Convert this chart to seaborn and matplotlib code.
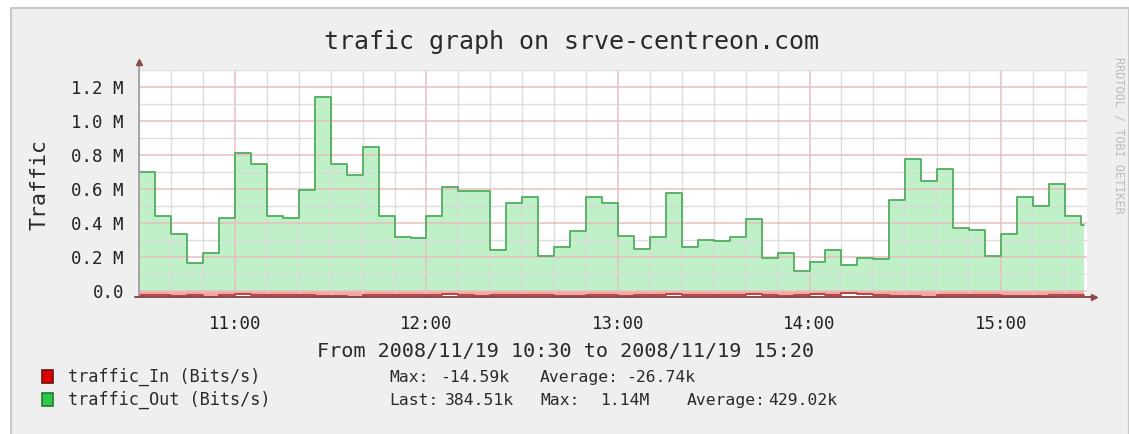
import pandas as pd
import seaborn as sns
import matplotlib.pyplot as plt
import matplotlib.dates as mdates
from matplotlib.patches import Rectangle
from matplotlib.ticker import FuncFormatter, MultipleLocator

# values, one per 5 min step starting 10:30 (kbit/s)
out_kbits = [697, 442, 335, 163, 225, 427, 813, 744, 442, 427,
             593, 1141, 744, 681, 848, 442, 315, 311, 440, 609,
             589, 589, 241, 519, 554, 206, 260, 354, 550, 519,
             323, 247, 319, 574, 256, 296, 290, 315, 423, 190,
             221, 117, 168, 237, 149, 192, 188, 534, 773, 646,
             717, 372, 358, 206, 335, 550, 501, 628, 440, 385]
in_kbits = [-24, -26, -33, -28, -35, -25, -22, -24, -27, -25,
            -28, -31, -33, -36, -27, -24, -25, -26, -23, -22,
            -28, -30, -26, -25, -27, -24, -29, -31, -26, -23,
            -33, -26, -24, -21, -25, -27, -28, -24, -22, -25,
            -31, -24, -20, -23, -14.59, -19, -25, -29, -33, -35,
            -27, -24, -23, -28, -31, -34, -29, -26, -25, -24]
start = "2008-11-19 10:30"
last_edge = "2008-11-19 15:26"
view_end = "2008-11-19 15:27"

title = "trafic graph on srve-centreon.com"
period = "From 2008/11/19 10:30 to 2008/11/19 15:20"
legend_names = ["traffic_In (Bits/s)", "traffic_Out (Bits/s)"]
legend_colors = ["#E00000", "#2EC94A"]
legend_edges = ["#6A1010", "#1F7A30"]
in_stats = [("Max:", 389), ("-14.59k", 440), ("Average:", 540), ("-26.74k", 626)]
out_stats = [("Last:", 389), ("384.51k", 445), ("Max:", 540), ("1.14M", 600),
             ("Average:", 687), ("429.02k", 768)]

W, H = 1129, 434
mono = "DejaVu Sans Mono"

sns.set_style("white")
plt.rcParams["font.family"] = [mono]

times = list(pd.date_range(start, periods=len(out_kbits), freq="5min")) + [pd.Timestamp(last_edge)]
df = pd.DataFrame({
    "time": times,
    "out": [v * 1000 for v in out_kbits] + [out_kbits[-1] * 1000],
    "in": [v * 1000 for v in in_kbits] + [in_kbits[-1] * 1000],
})

fig = plt.figure(figsize=(W / 100, H / 100), dpi=100, facecolor="white")
# rrdtool grey canvas
fig.add_artist(Rectangle((11 / W, -0.01), (W - 11) / W, (H - 8) / H + 0.01,
                         transform=fig.transFigure, facecolor="#EFEFEF",
                         edgecolor="#C8C8C8", lw=1.5, zorder=0))

left, right, top, bottom = 139.2, 1087.2, 70, 297
ax = fig.add_axes([left / W, 1 - bottom / H, (right - left) / W, (bottom - top) / H])
ax.set_facecolor("white")

ax.fill_between(df["time"], 0, df["out"], step="post", color="#BFF0C8", lw=0, zorder=1)
ax.fill_between(df["time"], 0, df["in"], step="post", color="#F4A6A3", lw=0, zorder=1)
sns.lineplot(data=df, x="time", y="out", drawstyle="steps-post", color="#4FAE5E",
             lw=1.3, ax=ax, zorder=4)
sns.lineplot(data=df, x="time", y="in", drawstyle="steps-post", color="#B84444",
             lw=1.4, ax=ax, zorder=4)

ax.set_xlim(pd.Timestamp(start), pd.Timestamp(view_end))
ax.set_ylim(-37000, 1.3e6)

ax.xaxis.set_major_locator(mdates.HourLocator())
ax.xaxis.set_major_formatter(mdates.DateFormatter("%H:%M"))
ax.xaxis.set_minor_locator(mdates.MinuteLocator(byminute=range(0, 60, 10)))
ax.yaxis.set_major_locator(MultipleLocator(200000))
ax.yaxis.set_minor_locator(MultipleLocator(100000))
ax.yaxis.set_major_formatter(FuncFormatter(lambda v, p: "0.0" if abs(v) < 1 else f"{v / 1e6:.1f} M"))

ax.set_axisbelow(False)
ax.grid(which="minor", color="#D9D9D9", lw=1.0, alpha=0.85, zorder=3)
ax.grid(which="major", color="#E6BEBE", lw=1.2, alpha=0.9, zorder=3)
ax.tick_params(which="major", length=3, color="#9A9A9A", labelsize=12.5, labelcolor="#222222")
ax.tick_params(axis="x", pad=10)
ax.tick_params(axis="y", pad=8)
ax.tick_params(which="minor", length=0)
ax.set_xlabel("")
ax.set_ylabel("")
for s in ax.spines.values():
    s.set_visible(False)

# axis lines with rrdtool arrows
axis_col = "#8A4A4A"
ax.plot([0, 0], [0, 1.035], transform=ax.transAxes, clip_on=False, color="#9A9A9A", lw=1.2, zorder=5)
ax.plot([-0.004, 1.007], [0, 0], transform=ax.transAxes, clip_on=False, color=axis_col, lw=1.4, zorder=5)
ax.plot([0], [1.035], marker="^", ms=5, color=axis_col, transform=ax.transAxes, clip_on=False, zorder=6)
ax.plot([1.007], [0], marker=">", ms=5, color=axis_col, transform=ax.transAxes, clip_on=False, zorder=6)

fig.text(572 / W, 1 - 42 / H, title, ha="center", va="center", fontsize=18, color="#2A2A2A")
fig.text(40 / W, 1 - 185 / H, "Traffic", ha="center", va="center", rotation=90, fontsize=15.5, color="#2A2A2A")
fig.text(1119 / W, 1 - 135 / H, "RRDTOOL / TOBI OETIKER", ha="center", va="center", rotation=270,
         fontsize=8.5, color="#BDBDBD")
fig.text(566 / W, 1 - 357 / H, period, ha="center", va="baseline", fontsize=14.5, color="#2A2A2A")

for i, (name, col, edge) in enumerate(zip(legend_names, legend_colors, legend_edges)):
    yc = 377 + 23 * i
    fig.add_artist(Rectangle((42 / W, 1 - (yc + 6) / H), 11 / W, 13 / H, transform=fig.transFigure,
                             facecolor=col, edgecolor=edge, lw=1.2))
    fig.text(68 / W, 1 - (yc + 5) / H, name, ha="left", va="baseline", fontsize=12.2, color="#2A2A2A")
for i, stats in enumerate([in_stats, out_stats]):
    yc = 377 + 23 * i
    for txt, x in stats:
        fig.text(x / W, 1 - (yc + 5) / H, txt, ha="left", va="baseline", fontsize=11.8, color="#2A2A2A")

fig.savefig("out.png", dpi=100, facecolor="white")
